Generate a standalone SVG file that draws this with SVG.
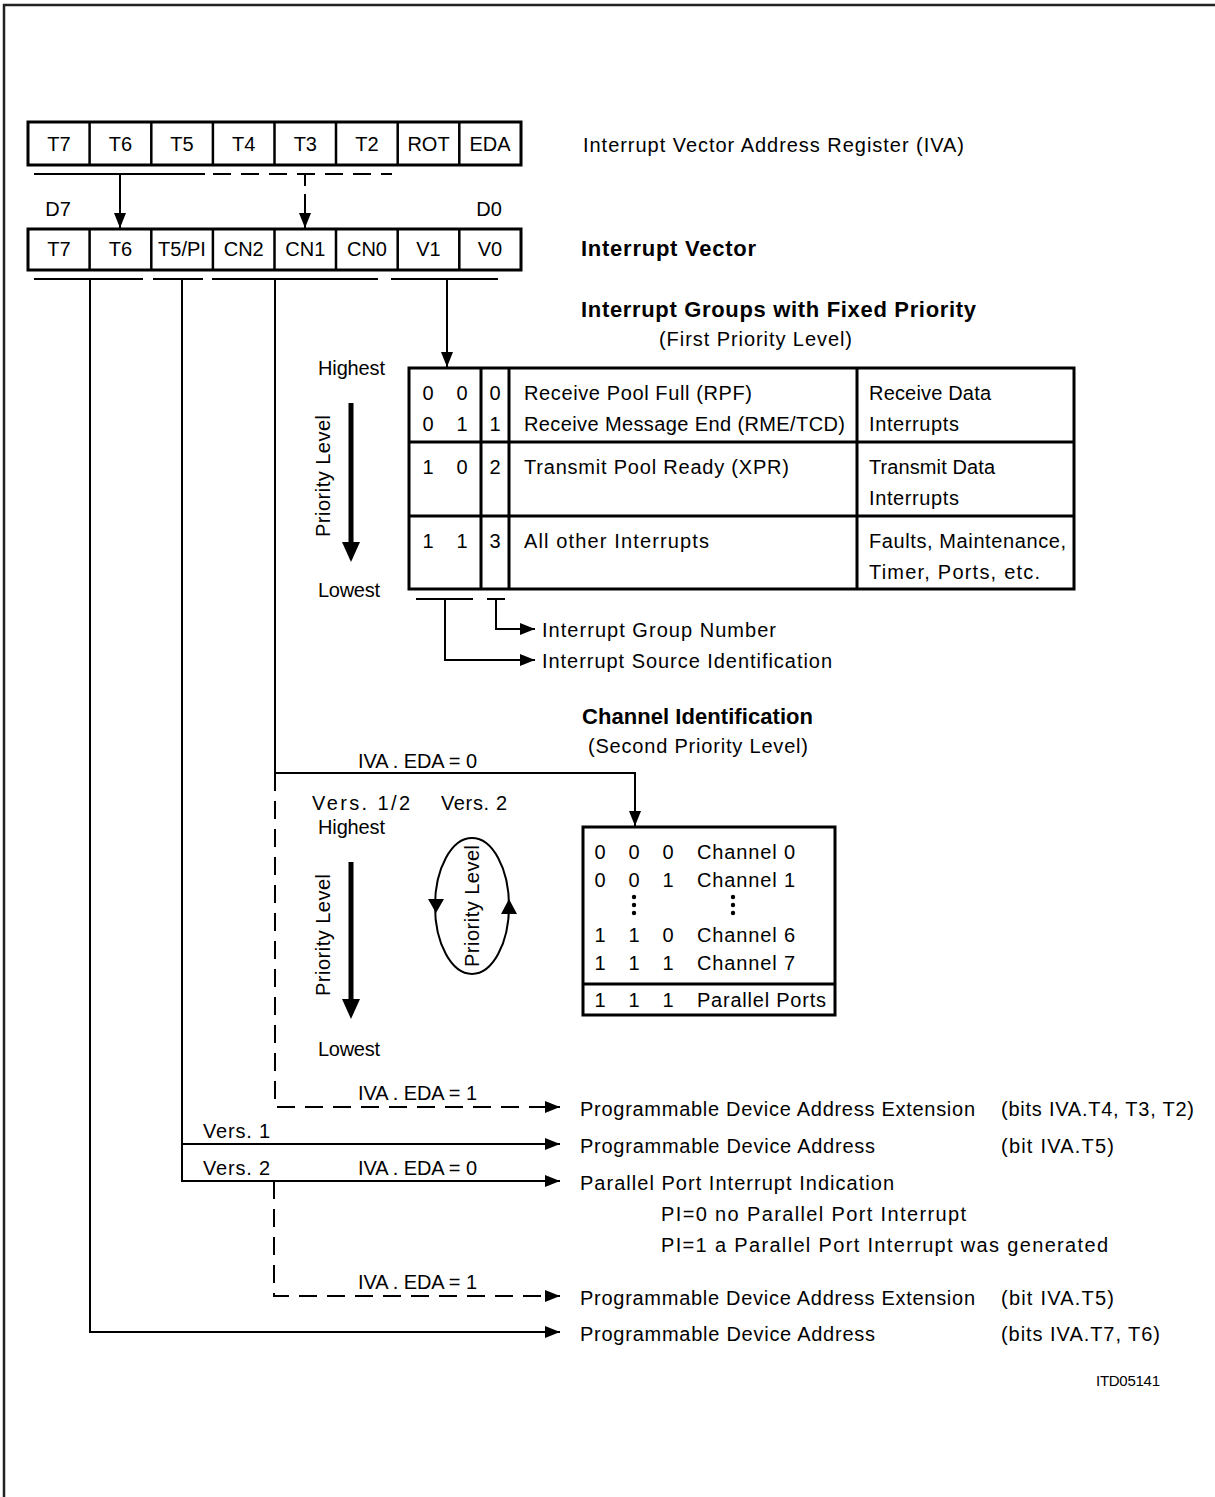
<svg xmlns="http://www.w3.org/2000/svg" width="1215" height="1497" viewBox="0 0 1215 1497">
<style>
text{font-family:"Liberation Sans",Arial,sans-serif;font-size:20px;fill:#000}
.c{text-anchor:middle}
.b{font-weight:bold;font-size:22px}
.s{font-size:15px}
.box{fill:#fff;stroke:#000;stroke-width:3}
.div{stroke:#000;stroke-width:2.5;fill:none}
.ln{stroke:#000;stroke-width:2;fill:none}
.dash{stroke:#000;stroke-width:2;fill:none;stroke-dasharray:18 10}
.thick{stroke:#000;stroke-width:5;fill:none}
</style>
<defs>
<marker id="ah" markerUnits="userSpaceOnUse" markerWidth="16" markerHeight="12" refX="15" refY="6" orient="auto">
<path d="M0,0 L15,6 L0,12 Z" fill="#000"/>
</marker>
</defs>
<rect width="1215" height="1497" fill="#fff"/>
<path d="M4,1497 V5 H1215" stroke="#222" stroke-width="2.5" fill="none"/>

<g id="reg-iva">
<rect class="box" x="28" y="122" width="493" height="43"/>
<path class="div" d="M89.6,122V165M151.3,122V165M212.9,122V165M274.5,122V165M336,122V165M397.7,122V165M459.3,122V165"/>
<text class="c" x="59" y="151">T7</text>
<text class="c" x="120.5" y="151">T6</text>
<text class="c" x="182" y="151">T5</text>
<text class="c" x="243.7" y="151">T4</text>
<text class="c" x="305.3" y="151">T3</text>
<text class="c" x="367" y="151">T2</text>
<text class="c" x="428.5" y="151">ROT</text>
<text class="c" x="490" y="151">EDA</text>
<text x="583" y="152" textLength="381" lengthAdjust="spacing">Interrupt Vector Address Register (IVA)</text>
</g>

<g id="reg-vector">
<text class="c" x="58" y="216">D7</text>
<text class="c" x="489" y="216">D0</text>
<rect class="box" x="28" y="229" width="493" height="41"/>
<path class="div" d="M89.6,229V270M151.3,229V270M212.9,229V270M274.5,229V270M336,229V270M397.7,229V270M459.3,229V270"/>
<text class="c" x="59" y="256">T7</text>
<text class="c" x="120.5" y="256">T6</text>
<text class="c" x="182" y="256">T5/PI</text>
<text class="c" x="243.7" y="256">CN2</text>
<text class="c" x="305.3" y="256">CN1</text>
<text class="c" x="367" y="256">CN0</text>
<text class="c" x="428.5" y="256">V1</text>
<text class="c" x="490" y="256">V0</text>
<text class="b" x="581" y="256" textLength="175" lengthAdjust="spacing">Interrupt Vector</text>
</g>

<g id="group-priority">
<text class="b" x="581" y="317" textLength="395" lengthAdjust="spacing">Interrupt Groups with Fixed Priority</text>
<text x="659" y="346" textLength="193" lengthAdjust="spacing">(First Priority Level)</text>
<text x="318" y="375" textLength="67" lengthAdjust="spacing">Highest</text>
<text x="318" y="597" textLength="62" lengthAdjust="spacing">Lowest</text>
<text transform="translate(330,476) rotate(-90)" class="c" textLength="122" lengthAdjust="spacing">Priority Level</text>
<line class="thick" x1="351" y1="403" x2="351" y2="545"/>
<path d="M342,542 L360,542 L351,562 Z" fill="#000"/>
</g>

<g id="table-groups">
<rect class="box" x="409" y="368" width="665" height="221"/>
<path class="box" d="M481,368V589M509,368V589M857,368V589M409,442H1074M409,516H1074"/>
<text class="c" x="428" y="400">0</text><text class="c" x="462" y="400">0</text><text class="c" x="495" y="400">0</text>
<text x="524" y="400" textLength="228" lengthAdjust="spacing">Receive Pool Full (RPF)</text>
<text x="869" y="400" textLength="122" lengthAdjust="spacing">Receive Data</text>
<text class="c" x="428" y="431">0</text><text class="c" x="462" y="431">1</text><text class="c" x="495" y="431">1</text>
<text x="524" y="431" textLength="321" lengthAdjust="spacing">Receive Message End (RME/TCD)</text>
<text x="869" y="431" textLength="90" lengthAdjust="spacing">Interrupts</text>
<text class="c" x="428" y="474">1</text><text class="c" x="462" y="474">0</text><text class="c" x="495" y="474">2</text>
<text x="524" y="474" textLength="265" lengthAdjust="spacing">Transmit Pool Ready (XPR)</text>
<text x="869" y="474" textLength="126" lengthAdjust="spacing">Transmit Data</text>
<text x="869" y="505" textLength="90" lengthAdjust="spacing">Interrupts</text>
<text class="c" x="428" y="548">1</text><text class="c" x="462" y="548">1</text><text class="c" x="495" y="548">3</text>
<text x="524" y="548" textLength="185" lengthAdjust="spacing">All other Interrupts</text>
<text x="869" y="548" textLength="197" lengthAdjust="spacing">Faults, Maintenance,</text>
<text x="869" y="579" textLength="171" lengthAdjust="spacing">Timer, Ports, etc.</text>
</g>

<g id="group-labels">
<text x="542" y="637" textLength="234" lengthAdjust="spacing">Interrupt Group Number</text>
<text x="542" y="668" textLength="290" lengthAdjust="spacing">Interrupt Source Identification</text>
</g>

<g id="channel-priority">
<text class="b" x="582" y="724" textLength="231" lengthAdjust="spacing">Channel Identification</text>
<text x="588" y="753" textLength="220" lengthAdjust="spacing">(Second Priority Level)</text>
<text x="358" y="768" textLength="119" lengthAdjust="spacing">IVA . EDA = 0</text>
<text x="312" y="810" textLength="98" lengthAdjust="spacing">Vers. 1/2</text>
<text x="441" y="810" textLength="66" lengthAdjust="spacing">Vers. 2</text>
<text x="318" y="834" textLength="67" lengthAdjust="spacing">Highest</text>
<text x="318" y="1056" textLength="62" lengthAdjust="spacing">Lowest</text>
<text transform="translate(330,935) rotate(-90)" class="c" textLength="122" lengthAdjust="spacing">Priority Level</text>
<line class="thick" x1="351" y1="862" x2="351" y2="1002"/>
<path d="M342,999 L360,999 L351,1019 Z" fill="#000"/>
</g>

<g id="rotation-ellipse">
<ellipse cx="472" cy="906" rx="37" ry="68" fill="none" stroke="#000" stroke-width="2"/>
<path d="M428,899 L444,899 L436,913 Z" fill="#000"/>
<path d="M501,914 L517,914 L509,899 Z" fill="#000"/>
<text transform="translate(479,906) rotate(-90)" class="c" textLength="122" lengthAdjust="spacing">Priority Level</text>
</g>

<g id="table-channels">
<rect class="box" x="583" y="827" width="252" height="188"/>
<line class="box" x1="583" y1="984" x2="835" y2="984"/>
<text class="c" x="600" y="859">0</text><text class="c" x="634" y="859">0</text><text class="c" x="668" y="859">0</text>
<text x="697" y="859" textLength="98" lengthAdjust="spacing">Channel 0</text>
<text class="c" x="600" y="887">0</text><text class="c" x="634" y="887">0</text><text class="c" x="668" y="887">1</text>
<text x="697" y="887" textLength="98" lengthAdjust="spacing">Channel 1</text>
<circle cx="634" cy="897" r="2.2"/><circle cx="634" cy="905" r="2.2"/><circle cx="634" cy="913" r="2.2"/>
<circle cx="733" cy="897" r="2.2"/><circle cx="733" cy="905" r="2.2"/><circle cx="733" cy="913" r="2.2"/>
<text class="c" x="600" y="942">1</text><text class="c" x="634" y="942">1</text><text class="c" x="668" y="942">0</text>
<text x="697" y="942" textLength="98" lengthAdjust="spacing">Channel 6</text>
<text class="c" x="600" y="970">1</text><text class="c" x="634" y="970">1</text><text class="c" x="668" y="970">1</text>
<text x="697" y="970" textLength="98" lengthAdjust="spacing">Channel 7</text>
<text class="c" x="600" y="1007">1</text><text class="c" x="634" y="1007">1</text><text class="c" x="668" y="1007">1</text>
<text x="697" y="1007" textLength="129" lengthAdjust="spacing">Parallel Ports</text>
</g>

<g id="outputs">
<text x="358" y="1100" textLength="119" lengthAdjust="spacing">IVA . EDA = 1</text>
<text x="580" y="1116" textLength="395" lengthAdjust="spacing">Programmable Device Address Extension</text>
<text x="1001" y="1116" textLength="193" lengthAdjust="spacing">(bits IVA.T4, T3, T2)</text>
<text x="203" y="1138" textLength="67" lengthAdjust="spacing">Vers. 1</text>
<text x="580" y="1153" textLength="295" lengthAdjust="spacing">Programmable Device Address</text>
<text x="1001" y="1153" textLength="113" lengthAdjust="spacing">(bit IVA.T5)</text>
<text x="203" y="1175" textLength="67" lengthAdjust="spacing">Vers. 2</text>
<text x="358" y="1175" textLength="119" lengthAdjust="spacing">IVA . EDA = 0</text>
<text x="580" y="1190" textLength="314" lengthAdjust="spacing">Parallel Port Interrupt Indication</text>
<text x="661" y="1221" textLength="305" lengthAdjust="spacing">PI=0 no Parallel Port Interrupt</text>
<text x="661" y="1252" textLength="447" lengthAdjust="spacing">PI=1 a Parallel Port Interrupt was generated</text>
<text x="358" y="1289" textLength="119" lengthAdjust="spacing">IVA . EDA = 1</text>
<text x="580" y="1305" textLength="395" lengthAdjust="spacing">Programmable Device Address Extension</text>
<text x="1001" y="1305" textLength="113" lengthAdjust="spacing">(bit IVA.T5)</text>
<text x="580" y="1341" textLength="295" lengthAdjust="spacing">Programmable Device Address</text>
<text x="1001" y="1341" textLength="159" lengthAdjust="spacing">(bits IVA.T7, T6)</text>
<text class="s" x="1096" y="1386" textLength="64" lengthAdjust="spacing">ITD05141</text>
</g>

<g id="connectors">
<path class="ln" d="M34,174H205"/>
<path class="dash" d="M213,174H392"/>
<path class="ln" d="M120,174V228" marker-end="url(#ah)"/>
<path class="dash" d="M305,174V228" style="stroke-dasharray:12 8 40" marker-end="url(#ah)"/>
<path class="ln" d="M34,279H143M153,279H203M212,279H378M391,279H498"/>
<path class="ln" d="M447,279V367" marker-end="url(#ah)"/>
<path class="ln" d="M416,599H473M487,599H505"/>
<path class="ln" d="M445,599V660H535" marker-end="url(#ah)"/>
<path class="ln" d="M496,599V629H535" marker-end="url(#ah)"/>
<path class="ln" d="M275,279V773H635V826" marker-end="url(#ah)"/>
<path class="dash" d="M275,773V1107H560" marker-end="url(#ah)"/>
<path class="ln" d="M182,279V1181H560" marker-end="url(#ah)"/>
<path class="ln" d="M182,1144H560" marker-end="url(#ah)"/>
<path class="dash" d="M274,1181V1296H560" marker-end="url(#ah)"/>
<path class="ln" d="M90,279V1332H560" marker-end="url(#ah)"/>
</g>
</svg>
